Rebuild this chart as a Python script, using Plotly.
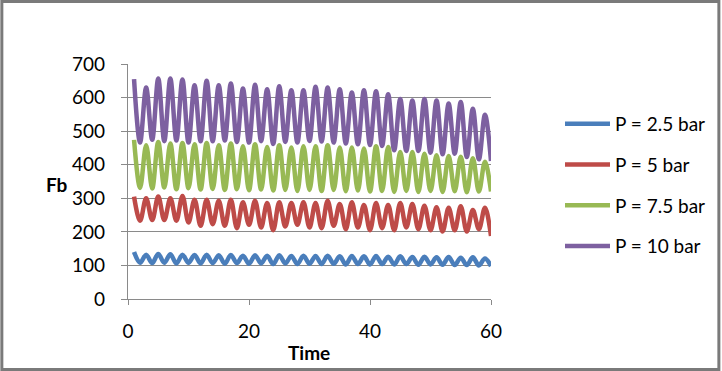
import plotly.graph_objects as go

time = list(range(1, 61))

p25 = [140, 108, 132, 107, 134, 108, 133, 106, 132, 108,
       131, 106, 132, 107, 130, 105, 131, 107, 129, 105,
       130, 106, 129, 104, 130, 106, 128, 104, 129, 105,
       128, 104, 129, 105, 127, 103, 128, 104, 127, 103,
       128, 104, 126, 103, 127, 104, 125, 102, 126, 103,
       124, 102, 125, 101, 123, 101, 124, 100, 121, 98]

p5 = [305, 233, 300, 235, 305, 235, 300, 233, 307, 228,
      296, 218, 296, 223, 293, 218, 296, 211, 288, 221,
      293, 213, 286, 205, 288, 216, 286, 221, 288, 213,
      286, 211, 293, 218, 283, 208, 288, 213, 280, 205,
      286, 211, 280, 205, 286, 213, 283, 208, 278, 205,
      273, 201, 272, 205, 276, 201, 265, 208, 272, 188]

p75 = [474, 331, 458, 329, 468, 332, 463, 327, 465, 330,
       461, 326, 465, 328, 458, 325, 463, 327, 455, 324,
       461, 326, 453, 323, 458, 325, 451, 322, 455, 325,
       455, 322, 458, 325, 451, 321, 451, 323, 448, 320,
       455, 322, 453, 319, 438, 322, 438, 319, 433, 322,
       428, 319, 426, 321, 424, 318, 419, 320, 409, 320]

p10 = [655, 466, 630, 474, 657, 470, 657, 472, 654, 466,
       637, 470, 650, 470, 637, 472, 642, 468, 627, 466,
       638, 470, 625, 462, 634, 468, 622, 466, 622, 471,
       632, 469, 630, 466, 625, 463, 615, 461, 622, 459,
       619, 456, 610, 443, 596, 441, 591, 441, 596, 436,
       591, 431, 582, 433, 587, 423, 567, 416, 549, 411]

names = ["P = 2.5 bar", "P = 5 bar", "P = 7.5 bar", "P = 10 bar"]
colors = ["#4A7EBB", "#BE4B48", "#98B954", "#7D60A0"]
series = [p25, p5, p75, p10]

x_ticks = [0, 20, 40, 60]
y_ticks = [0, 100, 200, 300, 400, 500, 600, 700]

W, H = 722, 371
L, R, T, B = 128, 230, 64, 72
pw, ph = W - L - R, H - T - B

fig = go.Figure()
for name, col, vals in zip(names, colors, series):
    fig.add_trace(go.Scatter(
        x=time, y=vals, name=name, mode="lines",
        line=dict(color=col, width=4.5, shape="spline", smoothing=1.0),
        legendgroup=name,
    ))

font_family = "Lato"
grid_col = "#8a8a8a"

def px2px(xp):
    return (xp - L) / pw

def py2py(yp):
    return (H - B - yp) / ph

fig.update_layout(
    width=W, height=H,
    margin=dict(l=L, r=R, t=T, b=B),
    paper_bgcolor="white", plot_bgcolor="white",
    font=dict(family=font_family, size=19, color="#000000"),
    showlegend=True,
    legend=dict(
        x=px2px(560), y=py2py(105), xanchor="left", yanchor="top",
        tracegroupgap=13, itemwidth=45,
        font=dict(family=font_family, size=19, color="#000000"),
        bgcolor="rgba(0,0,0,0)",
    ),
    xaxis=dict(
        range=[0, 60], tickvals=x_ticks, ticktext=[str(v) for v in x_ticks],
        showgrid=False, zeroline=False,
        showline=True, linecolor=grid_col, linewidth=1.3,
        ticks="outside", ticklen=5, tickcolor=grid_col, tickwidth=1.3,
        ticklabelstandoff=10,
        tickfont=dict(family=font_family, size=19),
    ),
    yaxis=dict(
        range=[0, 700], tickvals=y_ticks, ticktext=[str(v) for v in y_ticks],
        showgrid=True, gridcolor=grid_col, gridwidth=1.3,
        zeroline=False,
        showline=True, linecolor=grid_col, linewidth=1.3,
        ticks="outside", ticklen=6, tickcolor=grid_col, tickwidth=1.3,
        ticklabelstandoff=12,
        tickfont=dict(family=font_family, size=19),
    ),
    annotations=[
        dict(text="<b>Fb</b>", xref="paper", yref="paper",
             x=px2px(57), y=py2py(184), showarrow=False,
             xanchor="center", yanchor="middle",
             font=dict(family=font_family, size=19)),
        dict(text="<b>Time</b>", xref="paper", yref="paper",
             x=px2px(309), y=py2py(352), showarrow=False,
             xanchor="center", yanchor="middle",
             font=dict(family=font_family, size=19)),
    ],
    shapes=[
        dict(type="rect", xref="paper", yref="paper",
             x0=px2px(1.5), x1=px2px(W - 1.5),
             y0=py2py(H - 1.5), y1=py2py(1.5),
             line=dict(color="#7a7a7a", width=3), fillcolor="rgba(0,0,0,0)",
             layer="above"),
    ],
)

fig.write_html(
    "out.html",
    config={"displayModeBar": False},
    post_script="document.body.style.margin='0';document.body.style.padding='0';",
)
